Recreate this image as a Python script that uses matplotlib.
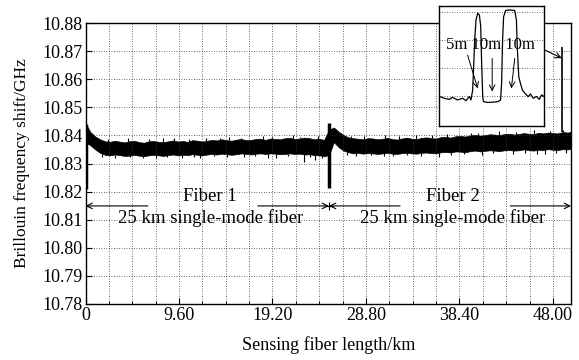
import numpy as np
import matplotlib
matplotlib.use('Agg')
import matplotlib.pyplot as plt

plt.rcParams['font.family'] = ['Liberation Serif', 'DejaVu Serif']

#Posiciones de lectura de la traza (km)
band_km = np.r_[0.15, np.arange(0.5, 49.51, 0.5), 49.85]

#Envolvente superior e inferior de la traza ruidosa (GHz)
band_top = [10.8434,
            10.8412, 10.8396, 10.8386, 10.8379, 10.8377, 10.8381, 10.8378, 10.8375, 10.8379, 10.8381,
            10.8376, 10.8374, 10.8379, 10.8380, 10.8377, 10.8376, 10.8379, 10.8382, 10.8378, 10.8380,
            10.8377, 10.8383, 10.8381, 10.8378, 10.8381, 10.8384, 10.8382, 10.8386, 10.8383, 10.8381,
            10.8385, 10.8387, 10.8383, 10.8384, 10.8387, 10.8388, 10.8384, 10.8389, 10.8387, 10.8386,
            10.8390, 10.8391, 10.8387, 10.8389, 10.8392, 10.8390, 10.8386, 10.8388, 10.8384,
            10.8420, 10.8428, 10.8413, 10.8401, 10.8393, 10.8390, 10.8388, 10.8386, 10.8390, 10.8389,
            10.8386, 10.8388, 10.8391, 10.8387, 10.8385, 10.8389, 10.8392, 10.8388, 10.8387, 10.8391,
            10.8393, 10.8390, 10.8389, 10.8394, 10.8395, 10.8392, 10.8397, 10.8398, 10.8396, 10.8400,
            10.8402, 10.8399, 10.8401, 10.8404, 10.8403, 10.8401, 10.8405, 10.8406, 10.8403, 10.8405,
            10.8408, 10.8406, 10.8404, 10.8409, 10.8407, 10.8410, 10.8408, 10.8407, 10.8412, 10.8410,
            10.8413]
band_bottom = [10.8372,
               10.8365, 10.8350, 10.8338, 10.8331, 10.8329, 10.8332, 10.8330, 10.8327, 10.8328, 10.8331,
               10.8328, 10.8326, 10.8329, 10.8331, 10.8329, 10.8327, 10.8330, 10.8332, 10.8329, 10.8331,
               10.8330, 10.8333, 10.8331, 10.8329, 10.8332, 10.8334, 10.8332, 10.8335, 10.8333, 10.8331,
               10.8333, 10.8336, 10.8334, 10.8332, 10.8335, 10.8336, 10.8334, 10.8336, 10.8335, 10.8333,
               10.8334, 10.8336, 10.8334, 10.8335, 10.8332, 10.8333, 10.8330, 10.8329, 10.8326,
               10.8330, 10.8376, 10.8358, 10.8346, 10.8340, 10.8336, 10.8338, 10.8335, 10.8337, 10.8336,
               10.8334, 10.8336, 10.8338, 10.8335, 10.8334, 10.8337, 10.8338, 10.8336, 10.8335, 10.8338,
               10.8339, 10.8337, 10.8336, 10.8340, 10.8341, 10.8339, 10.8343, 10.8342, 10.8340, 10.8344,
               10.8346, 10.8343, 10.8345, 10.8347, 10.8346, 10.8344, 10.8347, 10.8348, 10.8346, 10.8347,
               10.8350, 10.8348, 10.8346, 10.8349, 10.8348, 10.8351, 10.8349, 10.8348, 10.8351, 10.8350,
               10.8352]

#Picos aislados de ruido
down_km = [1.7, 3.0, 4.6, 5.9, 7.2, 8.4, 9.9, 11.1, 11.8, 13.2, 14.5, 16.3, 17.4, 18.7, 19.6,
           20.8, 22.4, 23.1, 23.6, 24.3, 26.9, 27.8, 29.3, 30.6, 31.6, 33.0, 34.4, 36.3, 37.5,
           38.9, 40.7, 41.8, 43.9, 45.1, 46.4, 47.2, 48.3, 49.3]
down_ghz = [10.8322, 10.8318, 10.8323, 10.8321, 10.8320, 10.8324, 10.8319, 10.8323, 10.8321,
            10.8325, 10.8322, 10.8322, 10.8326, 10.8321, 10.8319, 10.8325, 10.8306, 10.8322,
            10.8312, 10.8318, 10.8330, 10.8325, 10.8329, 10.8326, 10.8327, 10.8330, 10.8327,
            10.8322, 10.8331, 10.8333, 10.8330, 10.8336, 10.8333, 10.8337, 10.8335, 10.8335,
            10.8338, 10.8336]
up_km = [2.3, 4.4, 6.5, 8.0, 9.1, 10.6, 12.4, 13.8, 14.7, 16.0, 18.2, 19.2, 21.3, 22.0, 23.9,
         27.3, 28.6, 30.8, 32.2, 33.9, 35.6, 37.1, 39.6, 40.3, 42.5, 44.2, 46.1, 47.7, 49.0]
up_ghz = [10.8388, 10.8390, 10.8386, 10.8389, 10.8392, 10.8388, 10.8391, 10.8390, 10.8395,
          10.8392, 10.8397, 10.8394, 10.8400, 10.8396, 10.8397, 10.8398, 10.8397, 10.8402,
          10.8398, 10.8400, 10.8401, 10.8404, 10.8410, 10.8408, 10.8415, 10.8412, 10.8418,
          10.8416, 10.8419]

#Saltos al inicio y en la union de las fibras
dip_km = [0.0, 25.0]
dip_low = [10.8210, 10.8213]
dip_high = [10.8440, 10.8445]

#Zona calentada al final de la fibra
hot_km = 48.9
hot_ghz = 10.8715

#Detalle ampliado (m, GHz)
inset_m = [0.4, 3, 6, 8, 11, 14, 16, 18, 19, 20, 20.6, 21.2, 22, 23, 24, 24.8, 25.4, 26, 26.4,
           29, 32, 35, 36.6, 37.2, 37.8, 38.4, 39.6, 42, 45, 46, 46.6, 47.4, 48.4, 49.6, 51,
           53, 54.4, 56, 58, 59.6, 61, 62.4]
inset_ghz = [10.8398, 10.8392, 10.8388, 10.8395, 10.8386, 10.8392, 10.8383, 10.8398, 10.8386,
             10.8421, 10.8505, 10.8600, 10.8671, 10.8695, 10.8689, 10.8648, 10.8505, 10.8398,
             10.8380, 10.8377, 10.8378, 10.8380, 10.8386, 10.8445, 10.8600, 10.8683, 10.8705,
             10.8707, 10.8705, 10.8671, 10.8564, 10.8469, 10.8445, 10.8421, 10.8410, 10.8398,
             10.8407, 10.8392, 10.8398, 10.8388, 10.8404, 10.8398]

x_ticks = [0, 9.6, 19.2, 28.8, 38.4, 48.0]
x_labels = ['0', '9.60', '19.20', '28.80', '38.40', '48.00']
y_ticks = [10.78, 10.79, 10.80, 10.81, 10.82, 10.83, 10.84, 10.85, 10.86, 10.87, 10.88]

fig = plt.figure(figsize=(5.79, 3.6), dpi=100)
ax = fig.add_axes([85.5/579, 56/360, 485.5/579, 281/360])

#Traza principal
ax.fill_between(band_km, band_bottom, band_top, color='black', lw=0.5)
ax.vlines(down_km, down_ghz, np.interp(down_km, band_km, band_bottom), color='black', lw=0.8)
ax.vlines(up_km, np.interp(up_km, band_km, band_top), up_ghz, color='black', lw=0.8)
ax.vlines(dip_km, dip_low, dip_high, color='black', lw=2.5)
ax.vlines(hot_km, np.interp(hot_km, band_km, band_top), hot_ghz, color='black', lw=1.2)

#Ejes y rejilla
ax.set_xlim(0, 49.85)
ax.set_ylim(10.78, 10.88)
ax.set_xticks(x_ticks)
ax.set_xticklabels(x_labels)
ax.set_xticks(np.arange(0, 49.85, 2.4), minor=True)
ax.set_yticks(y_ticks)
ax.set_yticklabels(['%.2f' % v for v in y_ticks])
ax.tick_params(which='both', direction='in', labelsize=13, pad=2)
ax.tick_params(which='major', length=4)
ax.tick_params(which='minor', length=2)
ax.grid(which='both', color='#333333', linestyle=(0, (1, 2)), linewidth=0.6)
for s in ax.spines.values():
    s.set_linewidth(1.0)
ax.set_xlabel('Sensing fiber length/km', fontsize=13, labelpad=9)
ax.set_ylabel('Brillouin frequency shift/GHz', fontsize=12.5, labelpad=9)

#Anotaciones de las fibras
arr = dict(arrowstyle='->', color='black', lw=0.8, shrinkA=0, shrinkB=0)
y_arr = 10.8149
ax.annotate('', xy=(0, y_arr), xytext=(6.4, y_arr), arrowprops=arr)
ax.annotate('', xy=(25.0, y_arr), xytext=(17.7, y_arr), arrowprops=arr)
ax.annotate('', xy=(25.0, y_arr), xytext=(32.3, y_arr), arrowprops=arr)
ax.annotate('', xy=(49.85, y_arr), xytext=(43.6, y_arr), arrowprops=arr)
ax.plot(25.0, y_arr, marker='+', color='black', ms=6, mew=0.8)
ax.text(12.8, 10.8181, 'Fiber 1', fontsize=13.5, ha='center', va='center')
ax.text(12.8, 10.8106, '25 km single-mode fiber', fontsize=13.5, ha='center', va='center')
ax.text(37.7, 10.8181, 'Fiber 2', fontsize=13.5, ha='center', va='center')
ax.text(37.7, 10.8106, '25 km single-mode fiber', fontsize=13.5, ha='center', va='center')
ax.annotate('', xy=(hot_km, 10.8675), xytext=(46.97, 10.8707),
            arrowprops=dict(arrowstyle='->', color='black', lw=0.8, shrinkA=0, shrinkB=0))

#Grafica ampliada
ins = fig.add_axes([439/579, 234/360, 105/579, 120/360])
ins.plot(inset_m, inset_ghz, color='black', lw=0.9)
ins.set_xlim(0, 62.4)
ins.set_ylim(10.8293, 10.8721)
ins.set_yticks([10.84, 10.85, 10.86, 10.87])
ins.set_xticks([])
ins.grid(axis='y', color='#333333', linestyle=(0, (1, 2)), linewidth=0.6)
ins.tick_params(left=False, bottom=False, labelleft=False, labelbottom=False)
for s in ins.spines.values():
    s.set_linewidth(1.0)
ins.text(30.6, 10.8582, '5m 10m 10m', fontsize=12, ha='center', va='center')
arr_in = dict(arrowstyle='->', color='black', lw=0.7, shrinkA=0, shrinkB=0)
ins.annotate('', xy=(23, 10.8427), xytext=(17, 10.8546), arrowprops=arr_in)
ins.annotate('', xy=(31.6, 10.8416), xytext=(31.6, 10.8534), arrowprops=arr_in)
ins.annotate('', xy=(43, 10.8427), xytext=(45, 10.8534), arrowprops=arr_in)

fig.savefig('out.png', dpi=100)
